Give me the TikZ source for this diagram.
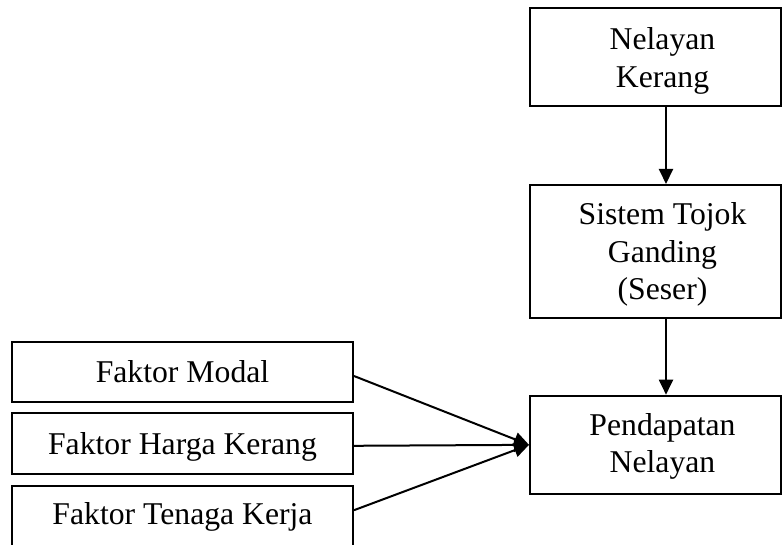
\documentclass[tikz,border=0pt]{standalone}
\usepackage{fontspec}
\setmainfont{Liberation Serif}
\usetikzlibrary{arrows.meta}
\begin{document}
\begin{tikzpicture}[x=1pt,y=-1pt,
  box/.style={draw, line width=2pt, rectangle, inner sep=0pt},
  rbox/.style={box, minimum width=251pt},
  lbox/.style={box, minimum width=341pt},
  txt/.style={inner sep=0pt, align=center, anchor=north, font=\fontsize{31.7pt}{37.5pt}\selectfont},
  arr/.style={line width=2pt, -{Triangle[length=15pt,width=14pt]}}]
\clip (0,0) rectangle (784,545);
\node[rbox, minimum height=97.4pt] (nk) at (655.5,57) {};
\node[txt] (nkt) at (662.5,27.5) {Nelayan\\Kerang};
\node[rbox, minimum height=133.3pt] (st) at (655.5,251.65) {};
\node[txt] (stt) at (662.5,202.5) {Sistem Tojok\\Ganding\\(Seser)};
\node[rbox, minimum height=98.3pt] (pn) at (655.5,444.85) {};
\node[txt] (pnt) at (662.5,413.2) {Pendapatan\\Nelayan};
\node[lbox, minimum height=60pt] (fm) at (182.5,372) {};
\node[txt] (fmt) at (182.5,359.9) {Faktor Modal};
\node[lbox, minimum height=61pt] (fh) at (182.5,443.8) {};
\node[txt] (fht) at (182.5,432.2) {Faktor Harga Kerang};
\node[lbox, minimum height=61pt] (ft) at (182.5,516.2) {};
\node[txt] (ftt) at (182.5,502.5) {Faktor Tenaga Kerja};
\draw[arr] ([xshift=10.5pt]nk.south) -- ([xshift=10.5pt]st.north);
\draw[arr] ([xshift=10.5pt]st.south) -- ([xshift=10.5pt]pn.north);
\draw[arr] ([yshift=-4pt]fm.east) -- (pn.west);
\draw[arr] ([yshift=-2pt]fh.east) -- (pn.west);
\draw[arr] ([yshift=6pt]ft.east) -- (pn.west);
\end{tikzpicture}
\end{document}
